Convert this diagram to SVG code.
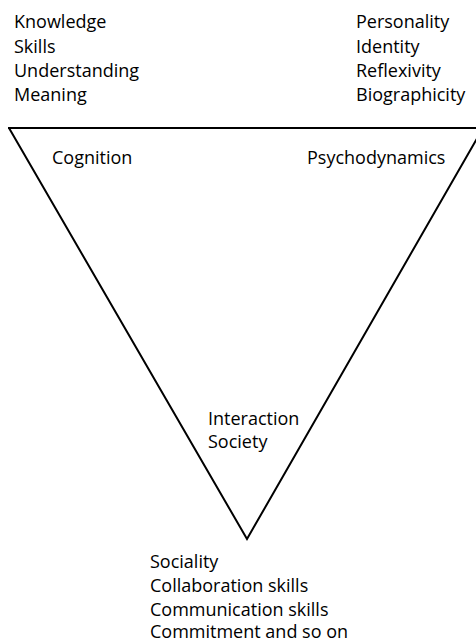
<svg xmlns="http://www.w3.org/2000/svg" width="476" height="643" viewBox="0 0 476 643">
<style>
text{font-family:"Open Sans","Noto Sans","Liberation Sans",sans-serif;font-size:18px;fill:#000}
.edge{fill:none;stroke:#000;stroke-width:2;stroke-linejoin:miter}
</style>
<rect width="476" height="643" fill="#fff"/>
<g id="connectors">
<path class="edge" d="M8,128 L486,128"/>
<path class="edge" d="M9,128 L247,539 L483,128"/>
</g>
<g id="node-cognitive-list">
<text x="14" y="28">Knowledge</text>
<text x="14" y="53">Skills</text>
<text x="14" y="77">Understanding</text>
<text x="14" y="101">Meaning</text>
</g>
<g id="node-psycho-list">
<text x="356" y="28">Personality</text>
<text x="356" y="53">Identity</text>
<text x="356" y="77">Reflexivity</text>
<text x="356" y="101">Biographicity</text>
</g>
<g id="node-cognition"><text x="52" y="164">Cognition</text></g>
<g id="node-psychodynamics"><text x="307" y="164">Psychodynamics</text></g>
<g id="node-interaction">
<text x="208" y="425">Interaction</text>
<text x="208" y="448">Society</text>
</g>
<g id="node-social-list">
<text x="150" y="568">Sociality</text>
<text x="150" y="592">Collaboration skills</text>
<text x="150" y="616">Communication skills</text>
<text x="150" y="638">Commitment and so on</text>
</g>
</svg>
